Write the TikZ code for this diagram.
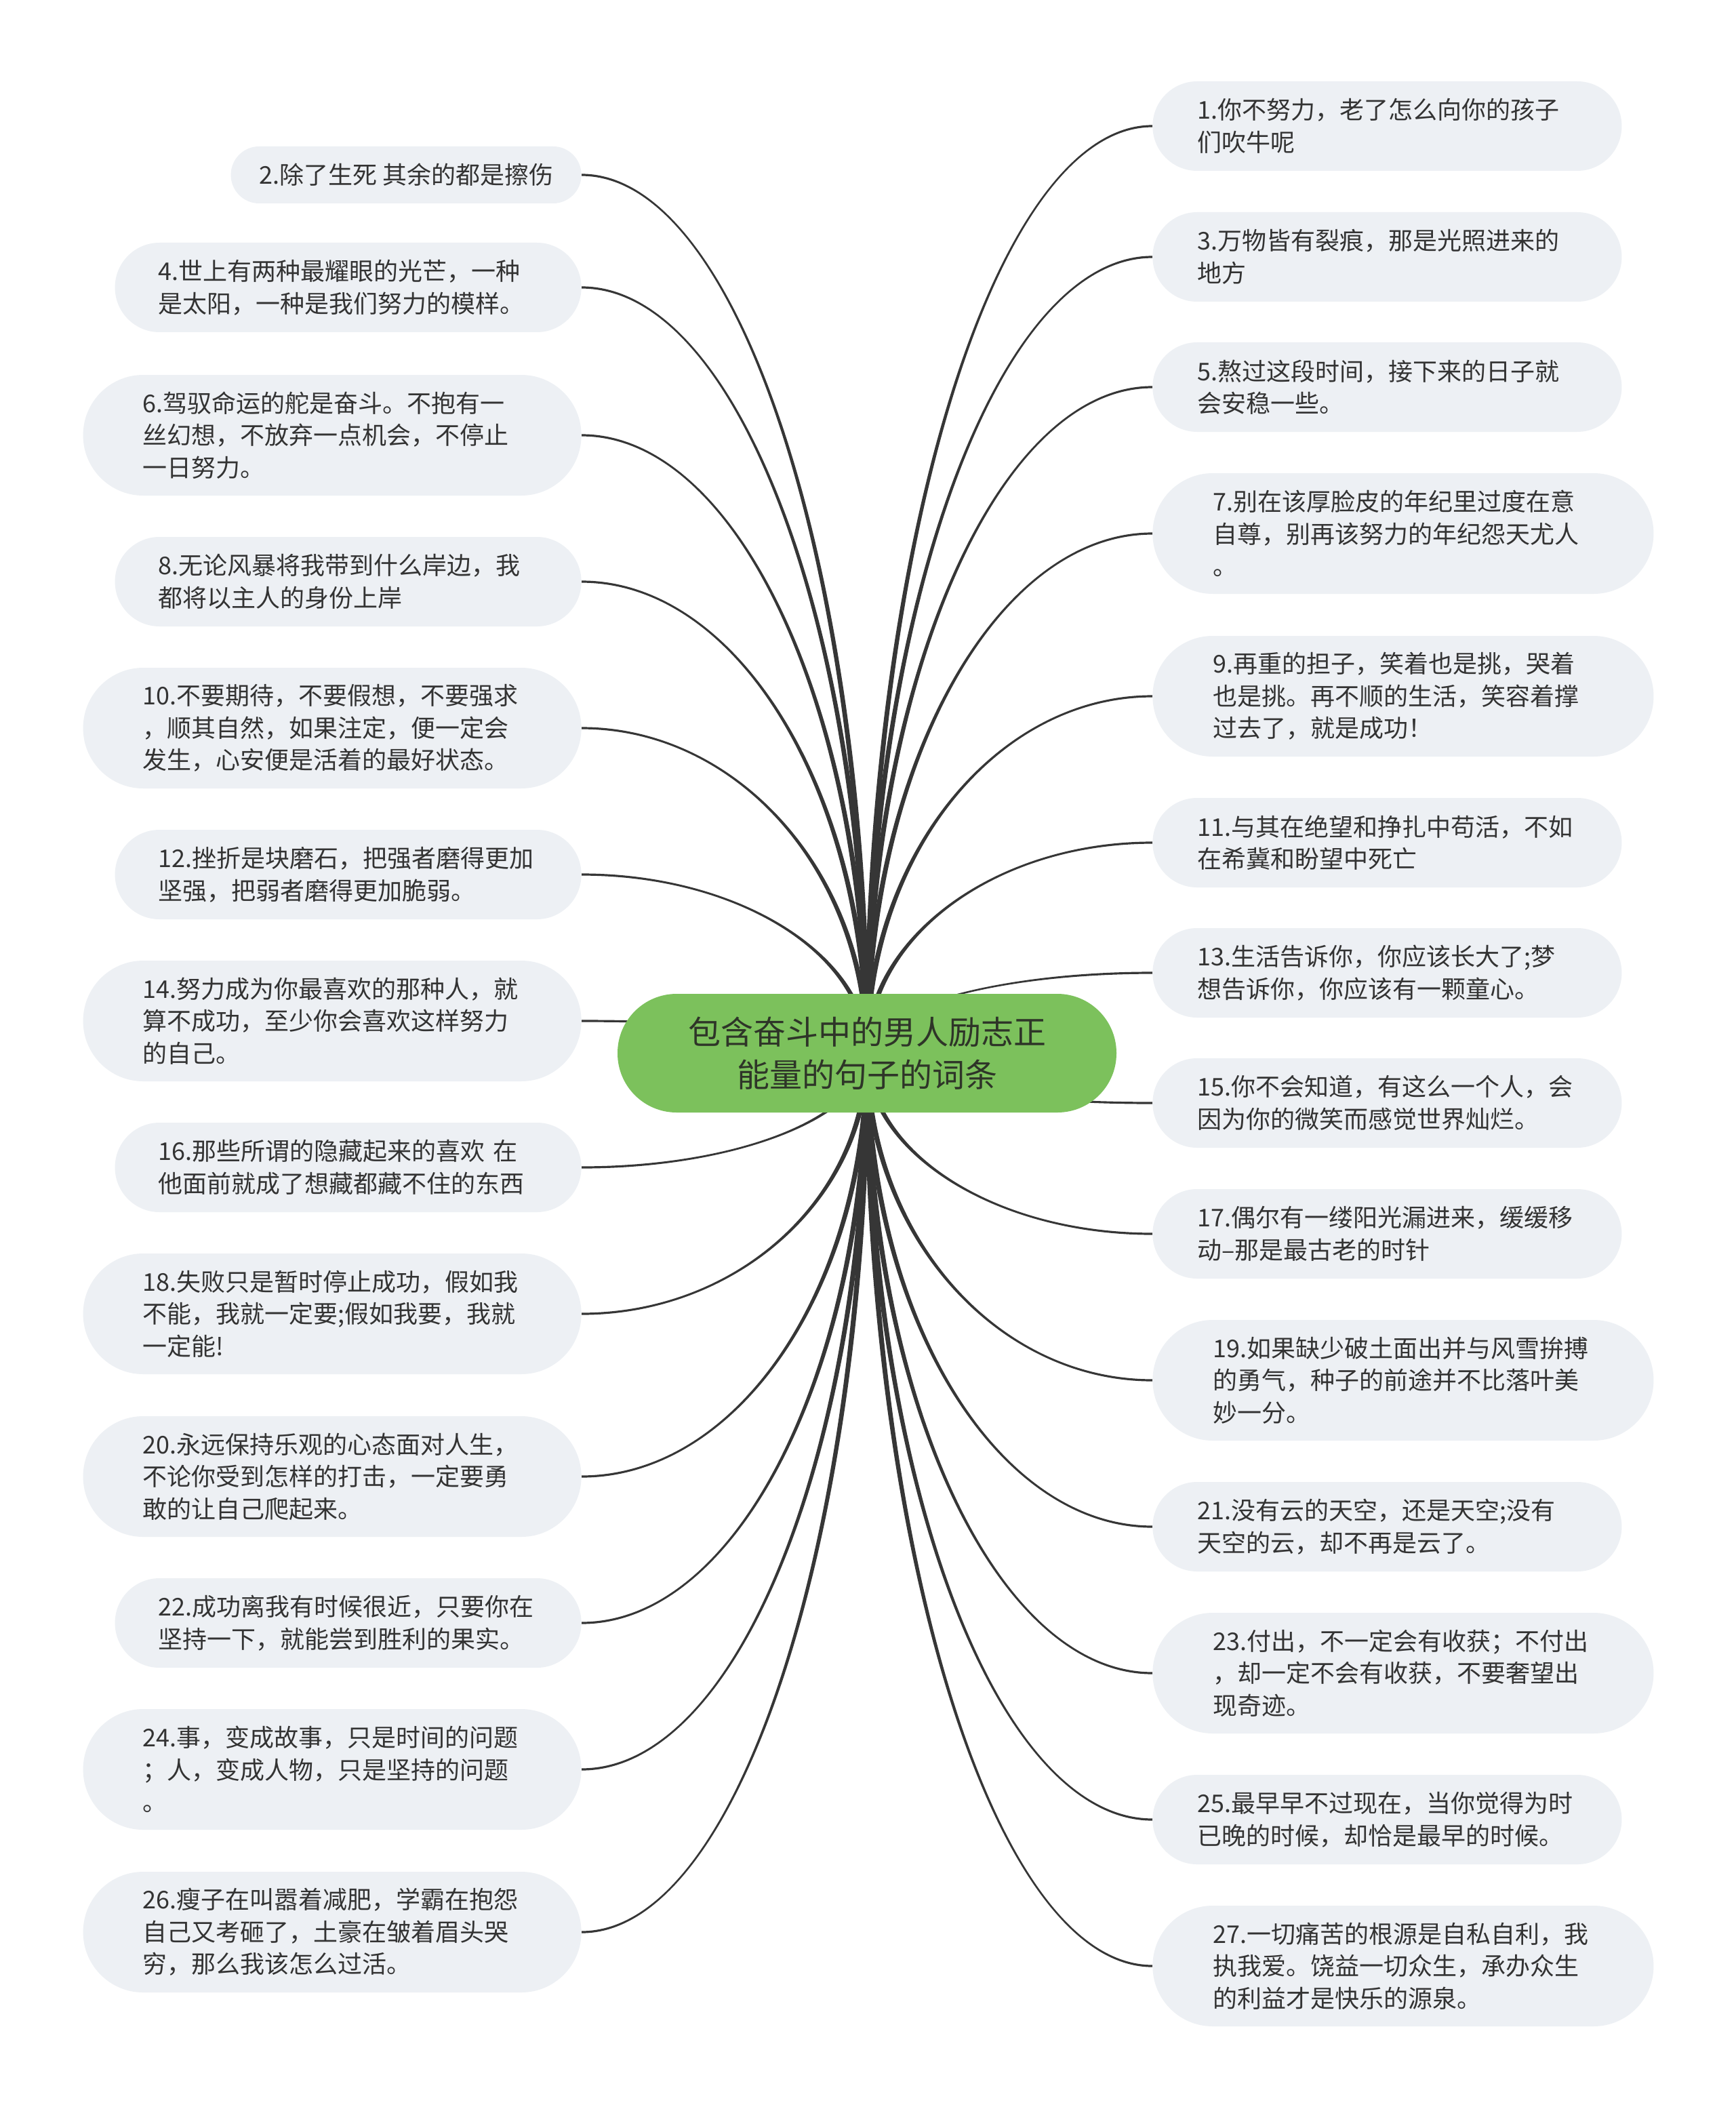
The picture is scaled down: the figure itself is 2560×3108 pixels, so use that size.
\documentclass[tikz,border=0pt]{standalone}
\usepackage{fontspec}
\setmainfont{Noto Sans CJK SC}
\usetikzlibrary{calc}
\definecolor{leaffill}{HTML}{EDF0F4}
\definecolor{rootfill}{HTML}{7CC15C}
\definecolor{txtcol}{HTML}{333333}
\definecolor{roottxt}{HTML}{2E3528}
\definecolor{edgecol}{HTML}{363636}
\pgfdeclarelayer{bg}
\pgfsetlayers{bg,main}
\newcommand\tedge[1]{%
 \fill[edgecol] let \p1=(#1), \p2=(root.center),
  \n1={ifthenelse(\x1>\x2,1,-1)}, \n2={ifthenelse(\y1>\y2,1,-1)},
  \n3={\x1+0.55*(\x2-\x1)}, \n4={\y1+0.45*(\y2-\y1)} in
  (\x1,{\y1+(\n2)*0.8pt}) .. controls (\n3,{\y1+(\n2)*0.8pt}) and ({\x2-(\n1)*2pt},\n4) .. ({\x2-(\n1)*2pt},\y2)
  -- ({\x2+(\n1)*2pt},\y2) .. controls ({\x2+(\n1)*2pt},\n4) and (\n3,{\y1-(\n2)*0.8pt}) .. (\x1,{\y1-(\n2)*0.8pt}) -- cycle;}
\begin{document}
\begin{tikzpicture}[x=0.5pt,y=-0.5pt,
 leaf/.style={fill=leaffill, inner sep=0pt, text=txtcol, font=\fontsize{18pt}{23.8pt}\selectfont},
 lone/.style={leaf, minimum height=42pt, rounded corners=20.9pt, minimum width=258.5pt},
 ltwo/.style={leaf, minimum height=66pt, rounded corners=32.9pt, text width=280pt, align=left},
 lthree/.style={leaf, minimum height=89pt, rounded corners=44.4pt, text width=280pt, align=left},
 wa/.style={minimum width=344pt}, wb/.style={minimum width=367.5pt},
 wc/.style={minimum width=346pt}, wd/.style={minimum width=369.5pt},
 lft/.style={anchor=east}, rgt/.style={anchor=west}]
\useasboundingbox (0,0) rectangle (2560,3108);
% root
\node[fill=rootfill, rounded corners=43.6pt, minimum width=368pt, minimum height=87.5pt, inner sep=0pt,
  align=center, text=roottxt, font=\fontsize{24pt}{31.7pt}\selectfont] (root) at (1279,1553.5)
  {包含奋斗中的男人励志正\\能量的句子的词条};
% left
\node[lone,lft] (n2) at (858,258) {2.除了生死 其余的都是擦伤};
\node[ltwo,wa,lft] (n4) at (858,424) {4.世上有两种最耀眼的光芒，一种\\是太阳，一种是我们努力的模样。};
\node[lthree,wb,lft] (n6) at (858,642) {6.驾驭命运的舵是奋斗。不抱有一\\丝幻想，不放弃一点机会，不停止\\一日努力。};
\node[ltwo,wa,lft] (n8) at (858,858) {8.无论风暴将我带到什么岸边，我\\都将以主人的身份上岸};
\node[lthree,wb,lft] (n10) at (858,1074) {10.不要期待，不要假想，不要强求\\，顺其自然，如果注定，便一定会\\发生，心安便是活着的最好状态。};
\node[ltwo,wa,lft] (n12) at (858,1290) {12.挫折是块磨石，把强者磨得更加\\坚强，把弱者磨得更加脆弱。};
\node[lthree,wb,lft] (n14) at (858,1506) {14.努力成为你最喜欢的那种人，就\\算不成功，至少你会喜欢这样努力\\的自己。};
\node[ltwo,wa,lft] (n16) at (858,1722) {16.那些所谓的隐藏起来的喜欢 在\\他面前就成了想藏都藏不住的东西};
\node[lthree,wb,lft] (n18) at (858,1938) {18.失败只是暂时停止成功，假如我\\不能，我就一定要;假如我要，我就\\一定能!};
\node[lthree,wb,lft] (n20) at (858,2178) {20.永远保持乐观的心态面对人生，\\不论你受到怎样的打击，一定要勇\\敢的让自己爬起来。};
\node[ltwo,wa,lft] (n22) at (858,2394) {22.成功离我有时候很近，只要你在\\坚持一下，就能尝到胜利的果实。};
\node[lthree,wb,lft] (n24) at (858,2610) {24.事，变成故事，只是时间的问题\\；人，变成人物，只是坚持的问题\\。};
\node[lthree,wb,lft] (n26) at (858,2850) {26.瘦子在叫嚣着减肥，学霸在抱怨\\自己又考砸了，土豪在皱着眉头哭\\穷，那么我该怎么过活。};
% right
\node[ltwo,wc,rgt] (n1) at (1700,186) {1.你不努力，老了怎么向你的孩子\\们吹牛呢};
\node[ltwo,wc,rgt] (n3) at (1700,379) {3.万物皆有裂痕，那是光照进来的\\地方};
\node[ltwo,wc,rgt] (n5) at (1700,571) {5.熬过这段时间，接下来的日子就\\会安稳一些。};
\node[lthree,wd,rgt] (n7) at (1700,787) {7.别在该厚脸皮的年纪里过度在意\\自尊，别再该努力的年纪怨天尤人\\。};
\node[lthree,wd,rgt] (n9) at (1700,1027) {9.再重的担子，笑着也是挑，哭着\\也是挑。再不顺的生活，笑容着撑\\过去了，就是成功！};
\node[ltwo,wc,rgt] (n11) at (1700,1243) {11.与其在绝望和挣扎中苟活，不如\\在希冀和盼望中死亡};
\node[ltwo,wc,rgt] (n13) at (1700,1435) {13.生活告诉你，你应该长大了;梦\\想告诉你，你应该有一颗童心。};
\node[ltwo,wc,rgt] (n15) at (1700,1627) {15.你不会知道，有这么一个人，会\\因为你的微笑而感觉世界灿烂。};
\node[ltwo,wc,rgt] (n17) at (1700,1820) {17.偶尔有一缕阳光漏进来，缓缓移\\动–那是最古老的时针};
\node[lthree,wd,rgt] (n19) at (1700,2036) {19.如果缺少破土面出并与风雪拚搏\\的勇气，种子的前途并不比落叶美\\妙一分。};
\node[ltwo,wc,rgt] (n21) at (1700,2252) {21.没有云的天空，还是天空;没有\\天空的云，却不再是云了。};
\node[lthree,wd,rgt] (n23) at (1700,2468) {23.付出，不一定会有收获；不付出\\，却一定不会有收获，不要奢望出\\现奇迹。};
\node[ltwo,wc,rgt] (n25) at (1700,2684) {25.最早早不过现在，当你觉得为时\\已晚的时候，却恰是最早的时候。};
\node[lthree,wd,rgt] (n27) at (1700,2900) {27.一切痛苦的根源是自私自利，我\\执我爱。饶益一切众生，承办众生\\的利益才是快乐的源泉。};
\begin{pgfonlayer}{bg}
\fill[white] (0,0) rectangle (2560,3108);
\foreach \k in {n2,n4,n6,n8,n10,n12,n14,n16,n18,n20,n22,n24,n26}{\tedge{\k.east}}
\foreach \k in {n1,n3,n5,n7,n9,n11,n13,n15,n17,n19,n21,n23,n25,n27}{\tedge{\k.west}}
\end{pgfonlayer}
\end{tikzpicture}
\end{document}
